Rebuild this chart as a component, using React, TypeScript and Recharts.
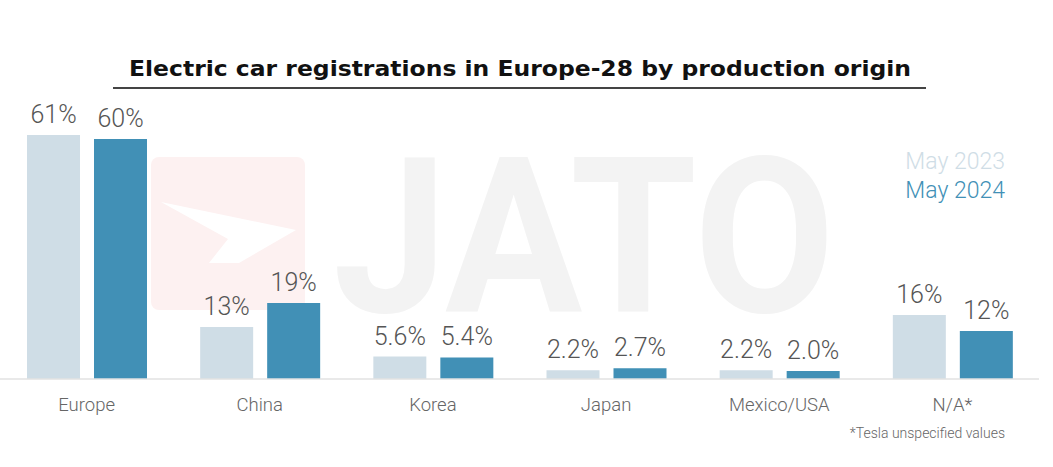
import React from 'react';
import { BarChart, Bar, XAxis, YAxis, LabelList } from 'recharts';

const categories = ['Europe', 'China', 'Korea', 'Japan', 'Mexico/USA', 'N/A*'];
const may2023 = [61, 13, 5.6, 2.2, 2.2, 16];
const may2024 = [60, 19, 5.4, 2.7, 2.0, 12];
const labels2023 = ['61%', '13%', '5.6%', '2.2%', '2.2%', '16%'];
const labels2024 = ['60%', '19%', '5.4%', '2.7%', '2.0%', '12%'];

const LIGHT = '#cfdde6';
const TEAL = '#4190b6';
const FONT = 'Roboto, "Noto Sans", sans-serif';

const data = categories.map((name, i) => ({
  name,
  v2023: may2023[i],
  v2024: may2024[i],
  l2023: labels2023[i],
  l2024: labels2024[i],
}));

const ValueLabel = (props: any) => {
  const { x, y, width, value } = props;
  return (
    <text
      x={x + width / 2}
      y={y - 12}
      textAnchor="middle"
      fontFamily={FONT}
      fontWeight={300}
      fontSize={25}
      fill="#555"
    >
      {value}
    </text>
  );
};

const CategoryTick = (props: any) => {
  const { x, y, payload } = props;
  return (
    <text
      x={x}
      y={y + 24}
      textAnchor="middle"
      fontFamily={FONT}
      fontWeight={300}
      fontSize={18.5}
      fill="#666"
    >
      {payload.value}
    </text>
  );
};

// faded JATO logo and the title sit behind the chart svg
const Backdrop = () => (
  <svg width={1053} height={467} style={{ position: 'absolute', left: 0, top: 0 }}>
    <rect x={151} y={157} width={154} height={153} rx={8} fill="#fdf1f1" />
    <polygon points="161,202 296,230 239,263 209,263 228,239" fill="#ffffff" />
    <text
      x={333}
      y={312}
      fontFamily="Roboto, sans-serif"
      fontWeight={700}
      fontSize={218}
      textLength={502}
      lengthAdjust="spacingAndGlyphs"
      fill="#f3f3f3"
    >
      JATO
    </text>
    <text
      x={129}
      y={76}
      fontFamily='"DejaVu Sans", sans-serif'
      fontWeight={700}
      fontSize={22}
      textLength={782}
      lengthAdjust="spacingAndGlyphs"
      fill="#111"
    >
      Electric car registrations in Europe-28 by production origin
    </text>
    <line x1={113} y1={88} x2={926} y2={88} stroke="#444" strokeWidth={2} />
  </svg>
);

export default function App() {
  return (
    <div style={{ position: 'absolute', left: 0, top: 0, width: 1053, height: 467, background: '#fff' }}>
      <Backdrop />
      <div style={{ position: 'absolute', left: 0, top: 0 }}>
        <BarChart
          width={1053}
          height={467}
          data={data}
          margin={{ top: 131, right: 14, left: 0, bottom: 58 }}
          barSize={53}
          barGap={14}
        >
          <XAxis
            dataKey="name"
            axisLine={{ stroke: '#e2e2e2', strokeWidth: 1.5 }}
            tickLine={false}
            tick={<CategoryTick />}
            height={30}
            interval={0}
          />
          <YAxis hide domain={[0, 62]} />
          <Bar dataKey="v2023" fill={LIGHT} isAnimationActive={false}>
            <LabelList dataKey="l2023" content={<ValueLabel />} />
          </Bar>
          <Bar dataKey="v2024" fill={TEAL} isAnimationActive={false}>
            <LabelList dataKey="l2024" content={<ValueLabel />} />
          </Bar>
        </BarChart>
      </div>
      <div
        style={{
          position: 'absolute',
          right: 48,
          top: 147,
          textAlign: 'right',
          fontFamily: FONT,
          fontWeight: 300,
          fontSize: 23,
          lineHeight: '29px',
        }}
      >
        <div style={{ color: LIGHT }}>May 2023</div>
        <div style={{ color: TEAL }}>May 2024</div>
      </div>
      <div
        style={{
          position: 'absolute',
          right: 48,
          top: 425,
          fontFamily: FONT,
          fontWeight: 300,
          fontSize: 14,
          color: '#666',
        }}
      >
        *Tesla unspecified values
      </div>
    </div>
  );
}
